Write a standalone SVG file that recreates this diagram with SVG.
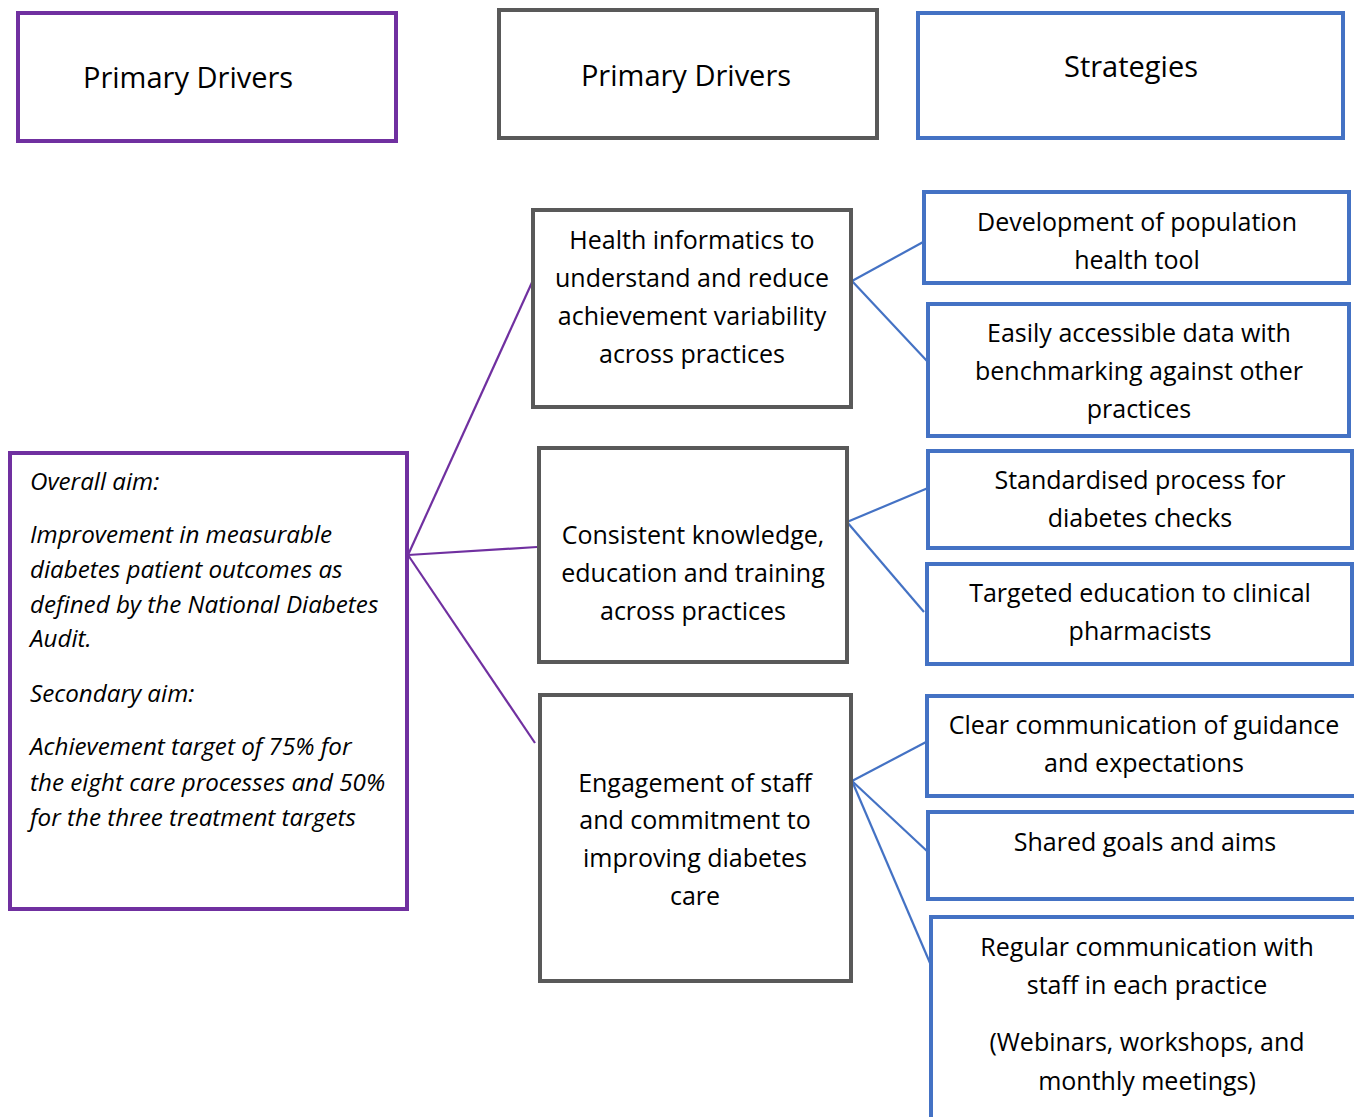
<svg xmlns="http://www.w3.org/2000/svg" width="1354" height="1117" viewBox="0 0 1354 1117">
<style>
  text { font-family: "Open Sans", "Noto Sans", sans-serif; fill: #000; }
  .hd { font-size: 29px; }
  .bd { font-size: 25px; text-anchor: middle; }
  .it { font-size: 24.2px; font-style: italic; }
  .pur { fill: #fff; stroke: #7030A0; stroke-width: 4; }
  .gry { fill: #fff; stroke: #595959; stroke-width: 4; }
  .blu { fill: #fff; stroke: #4472C4; stroke-width: 4; }
  .cp { stroke: #7030A0; stroke-width: 2.2; fill: none; }
  .cb { stroke: #4472C4; stroke-width: 2.2; fill: none; }
</style>
<rect width="1354" height="1117" fill="#fff"/>

<g id="connectors">
  <line class="cp" x1="408" y1="555" x2="534" y2="278"/>
  <line class="cp" x1="408" y1="555" x2="537" y2="547"/>
  <line class="cp" x1="408" y1="555" x2="535" y2="743"/>
  <line class="cb" x1="852" y1="281" x2="925" y2="241"/>
  <line class="cb" x1="852" y1="281" x2="927" y2="361"/>
  <line class="cb" x1="847" y1="522" x2="928" y2="488"/>
  <line class="cb" x1="847" y1="522" x2="924" y2="612"/>
  <line class="cb" x1="852" y1="781" x2="928" y2="741"/>
  <line class="cb" x1="852" y1="781" x2="928" y2="852"/>
  <line class="cb" x1="852" y1="781" x2="930" y2="963"/>
</g>

<g id="hdr-primary-1">
  <rect class="pur" x="18" y="13" width="378" height="128"/>
  <text class="hd" x="83" y="88">Primary Drivers</text>
</g>
<g id="hdr-primary-2">
  <rect class="gry" x="499" y="10" width="378" height="128"/>
  <text class="hd" x="686" y="86" text-anchor="middle">Primary Drivers</text>
</g>
<g id="hdr-strategies">
  <rect class="blu" x="918" y="13" width="425" height="125"/>
  <text class="hd" x="1131" y="77" text-anchor="middle">Strategies</text>
</g>

<g id="aim">
  <rect class="pur" x="10" y="453" width="397" height="456"/>
  <text class="it" x="30" y="490">Overall aim:</text>
  <text class="it" x="30" y="543">Improvement in measurable</text>
  <text class="it" x="30" y="578">diabetes patient outcomes as</text>
  <text class="it" x="30" y="613">defined by the National Diabetes</text>
  <text class="it" x="30" y="647">Audit.</text>
  <text class="it" x="30" y="702">Secondary aim:</text>
  <text class="it" x="30" y="755">Achievement target of 75% for</text>
  <text class="it" x="30" y="791">the eight care processes and 50%</text>
  <text class="it" x="30" y="826">for the three treatment targets</text>
</g>

<g id="driver-1">
  <rect class="gry" x="533" y="210" width="318" height="197"/>
  <text class="bd" x="692" y="249">Health informatics to</text>
  <text class="bd" x="692" y="287">understand and reduce</text>
  <text class="bd" x="692" y="325">achievement variability</text>
  <text class="bd" x="692" y="363">across practices</text>
</g>
<g id="driver-2">
  <rect class="gry" x="539" y="448" width="308" height="214"/>
  <text class="bd" x="693" y="544">Consistent knowledge,</text>
  <text class="bd" x="693" y="582">education and training</text>
  <text class="bd" x="693" y="620">across practices</text>
</g>
<g id="driver-3">
  <rect class="gry" x="540" y="695" width="311" height="286"/>
  <text class="bd" x="695" y="792">Engagement of staff</text>
  <text class="bd" x="695" y="829">and commitment to</text>
  <text class="bd" x="695" y="867">improving diabetes</text>
  <text class="bd" x="695" y="905">care</text>
</g>

<g id="strategy-1">
  <rect class="blu" x="924" y="192" width="425" height="91"/>
  <text class="bd" x="1137" y="231">Development of population</text>
  <text class="bd" x="1137" y="269">health tool</text>
</g>
<g id="strategy-2">
  <rect class="blu" x="928" y="304" width="421" height="132"/>
  <text class="bd" x="1139" y="342">Easily accessible data with</text>
  <text class="bd" x="1139" y="380">benchmarking against other</text>
  <text class="bd" x="1139" y="418">practices</text>
</g>
<g id="strategy-3">
  <rect class="blu" x="928" y="451" width="424" height="97"/>
  <text class="bd" x="1140" y="489">Standardised process for</text>
  <text class="bd" x="1140" y="527">diabetes checks</text>
</g>
<g id="strategy-4">
  <rect class="blu" x="927" y="564" width="425" height="100"/>
  <text class="bd" x="1140" y="602">Targeted education to clinical</text>
  <text class="bd" x="1140" y="640">pharmacists</text>
</g>
<g id="strategy-5">
  <rect class="blu" x="927" y="696" width="440" height="100"/>
  <text class="bd" x="1144" y="734">Clear communication of guidance</text>
  <text class="bd" x="1144" y="772">and expectations</text>
</g>
<g id="strategy-6">
  <rect class="blu" x="928" y="812" width="440" height="87"/>
  <text class="bd" x="1145" y="851">Shared goals and aims</text>
</g>
<g id="strategy-7">
  <rect class="blu" x="931" y="917" width="440" height="220"/>
  <text class="bd" x="1147" y="956">Regular communication with</text>
  <text class="bd" x="1147" y="994">staff in each practice</text>
  <text class="bd" x="1147" y="1051">(Webinars, workshops, and</text>
  <text class="bd" x="1147" y="1090">monthly meetings)</text>
</g>
</svg>
